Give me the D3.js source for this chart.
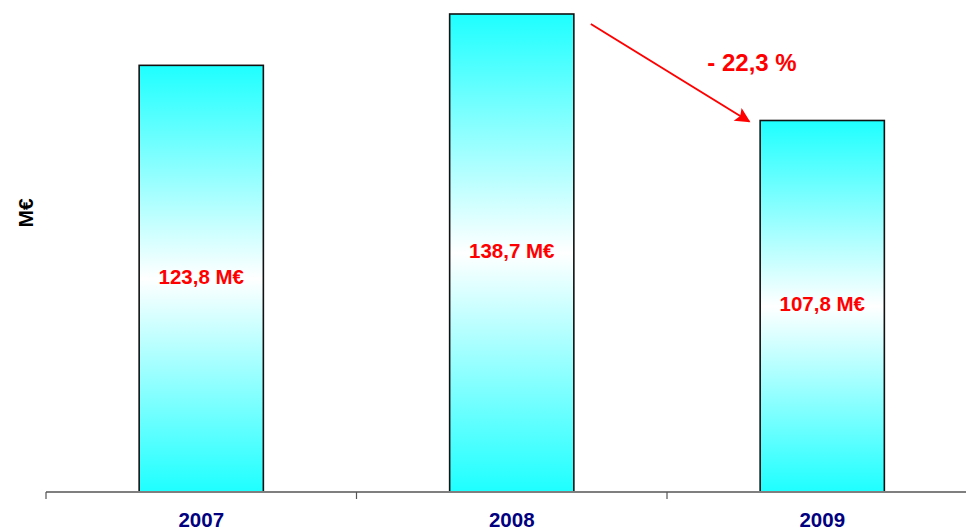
<!DOCTYPE html>
<html>
<head>
<meta charset="utf-8">
<script src="https://cdn.jsdelivr.net/npm/d3@7/dist/d3.min.js"></script>
<style>
  html, body { margin: 0; padding: 0; background: #ffffff; }
  svg { display: block; }
</style>
</head>
<body>
<svg id="chart" width="966" height="530"></svg>
<script>
// Revenue per year, in millions of euros
const years = ["2007", "2008", "2009"];
const revenue = [123.8, 138.7, 107.8];
const valueLabels = ["123,8 M€", "138,7 M€", "107,8 M€"];
const changeLabel = "- 22,3 %";
const yAxisTitle = "M€";

const W = 966, H = 530;
const baseY = 492, topY = 14;
const plotLeft = 46, bandW = 310.5;
const FONT = "Liberation Sans, Arial, sans-serif";

const svg = d3.select("#chart");

const x = d3.scaleBand()
  .domain(years)
  .range([plotLeft, plotLeft + bandW * years.length])
  .paddingInner(0.6)
  .paddingOuter(0.3);

const y = d3.scaleLinear()
  .domain([0, d3.max(revenue)])
  .range([baseY, topY]);

// cyan → white → cyan fill used by every bar
const defs = svg.append("defs");
const grad = defs.append("linearGradient")
  .attr("id", "barFill")
  .attr("x1", 0).attr("y1", 0).attr("x2", 0).attr("y2", 1);
grad.append("stop").attr("offset", "0%").attr("stop-color", "#1effff");
grad.append("stop").attr("offset", "50%").attr("stop-color", "#ffffff");
grad.append("stop").attr("offset", "100%").attr("stop-color", "#1effff");

const marker = defs.append("marker")
  .attr("id", "arrowHead")
  .attr("viewBox", "0 0 10 10")
  .attr("refX", 9).attr("refY", 5)
  .attr("markerWidth", 10).attr("markerHeight", 7.5)
  .attr("markerUnits", "strokeWidth")
  .attr("orient", "auto");
marker.append("path").attr("d", "M0,0 L10,5 L0,10 L2,5 Z").attr("fill", "#ff0000");

// bars
svg.selectAll("rect.bar")
  .data(years)
  .join("rect")
  .attr("class", "bar")
  .attr("x", d => x(d))
  .attr("y", (d, i) => y(revenue[i]))
  .attr("width", x.bandwidth())
  .attr("height", (d, i) => baseY - y(revenue[i]))
  .attr("fill", "url(#barFill)")
  .attr("stroke", "#111111")
  .attr("stroke-width", 1.6);

// value labels at bar middle
svg.selectAll("text.value")
  .data(years)
  .join("text")
  .attr("class", "value")
  .attr("x", d => x(d) + x.bandwidth() / 2)
  .attr("y", (d, i) => (y(revenue[i]) + baseY) / 2 - 2)
  .attr("dy", "0.35em")
  .attr("text-anchor", "middle")
  .attr("font-family", FONT)
  .attr("font-weight", "bold")
  .attr("font-size", 20.5)
  .attr("fill", "#ff0000")
  .text((d, i) => valueLabels[i]);

// category axis
const axisG = svg.append("g");
axisG.append("line")
  .attr("x1", plotLeft).attr("x2", W)
  .attr("y1", baseY).attr("y2", baseY)
  .attr("stroke", "#7f7f7f").attr("stroke-width", 2);
const tickXs = years.map((d, i) => plotLeft + bandW * i);
axisG.selectAll("line.tick")
  .data(tickXs)
  .join("line")
  .attr("class", "tick")
  .attr("x1", d => d).attr("x2", d => d)
  .attr("y1", baseY).attr("y2", baseY + 7)
  .attr("stroke", "#555555").attr("stroke-width", 1.2);
axisG.selectAll("text.year")
  .data(years)
  .join("text")
  .attr("class", "year")
  .attr("x", d => x(d) + x.bandwidth() / 2)
  .attr("y", 520)
  .attr("dy", "0.35em")
  .attr("text-anchor", "middle")
  .attr("font-family", FONT)
  .attr("font-weight", "bold")
  .attr("font-size", 20.5)
  .attr("fill", "#000080")
  .text(d => d);

// y axis title
svg.append("text")
  .attr("transform", "translate(26,213) rotate(-90)")
  .attr("text-anchor", "middle")
  .attr("dy", "0.35em")
  .attr("font-family", FONT)
  .attr("font-weight", "bold")
  .attr("font-size", 21)
  .attr("fill", "#000000")
  .text(yAxisTitle);

// change arrow from 2008 toward 2009
const x08 = x("2008") + x.bandwidth(), x09 = x("2009");
svg.append("line")
  .attr("x1", x08 + 17).attr("y1", y(revenue[1]) + 10)
  .attr("x2", x09 - 11).attr("y2", y(revenue[2]) + 1)
  .attr("stroke", "#ff0000")
  .attr("stroke-width", 2)
  .attr("marker-end", "url(#arrowHead)");

svg.append("text")
  .attr("x", 752)
  .attr("y", 63)
  .attr("dy", "0.35em")
  .attr("text-anchor", "middle")
  .attr("font-family", FONT)
  .attr("font-weight", "bold")
  .attr("font-size", 24)
  .attr("fill", "#ff0000")
  .text(changeLabel);
</script>
</body>
</html>
